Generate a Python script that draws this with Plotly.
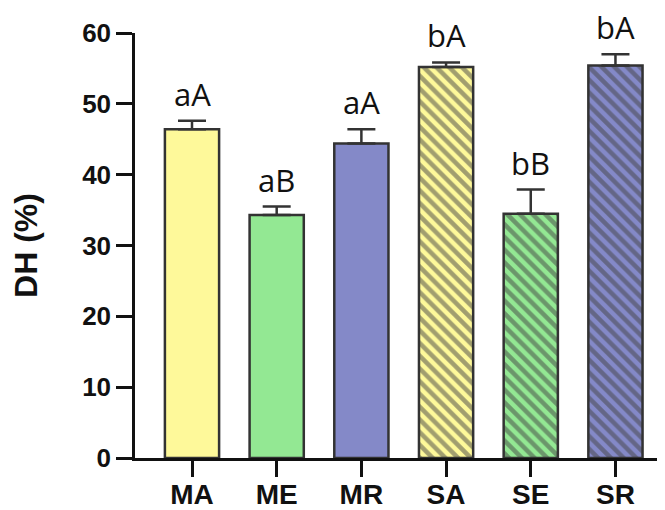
import plotly.graph_objects as go

categories = ["MA", "ME", "MR", "SA", "SE", "SR"]
dh_mean = [46.4, 34.3, 44.4, 55.2, 34.5, 55.4]
dh_sd = [1.2, 1.2, 2.0, 0.65, 3.4, 1.6]
sig_labels = ["aA", "aB", "aA", "bA", "bB", "bA"]
bar_colors = ["#FEF99A", "#93E893", "#8489C8", "#FEF99A", "#93E893", "#8489C8"]
hatch = ["", "", "", "\\", "\\", "\\"]
y_ticks = [0, 10, 20, 30, 40, 50, 60]

dark = "#333333"

fig = go.Figure()
fig.add_trace(go.Bar(
    x=categories,
    y=dh_mean,
    width=0.64,
    marker=dict(
        color=bar_colors,
        line=dict(color=dark, width=2.5),
        pattern=dict(shape=hatch, fgcolor=dark, size=9, solidity=0.5),
    ),
    error_y=dict(type="data", array=dh_sd, arrayminus=[0] * len(dh_sd),
                 symmetric=False, color=dark, thickness=2.5, width=14),
    showlegend=False,
))

for c, m, s, t in zip(categories, dh_mean, dh_sd, sig_labels):
    fig.add_annotation(x=c, y=m + s, text=t, showarrow=False,
                       yanchor="bottom", yshift=4,
                       font=dict(family="Open Sans", size=31, color="#111111"))

# page body has an 8px default margin; figure sized/placed to compensate
fig.update_layout(
    width=657, height=502,
    margin=dict(l=127, r=0, t=25, b=52),
    plot_bgcolor="white", paper_bgcolor="white",
    font=dict(family="Liberation Sans, Arial", color="#111111"),
)
fig.update_xaxes(
    type="category",
    range=[-0.673, 5.585],
    automargin=False,
    showline=True, linewidth=2.5, linecolor="#111111",
    ticks="outside", ticklen=16, tickwidth=2.5, tickcolor="#111111",
    ticklabelstandoff=-6,
    tickfont=dict(family="Liberation Sans, Arial", size=28, color="#111111", weight="bold"),
    showgrid=False, zeroline=False,
)
fig.update_yaxes(
    range=[0, 60],
    tickvals=y_ticks,
    automargin=False,
    showline=True, linewidth=2.5, linecolor="#111111",
    ticks="outside", ticklen=16, tickwidth=2.5, tickcolor="#111111",
    tickfont=dict(family="Liberation Sans, Arial", size=26, color="#111111", weight="bold"),
    showgrid=False, zeroline=False,
    title=dict(text="DH (%)", standoff=40,
               font=dict(family="Liberation Sans, Arial", size=32, color="#111111", weight="bold")),
)

fig.write_html("out.html")
